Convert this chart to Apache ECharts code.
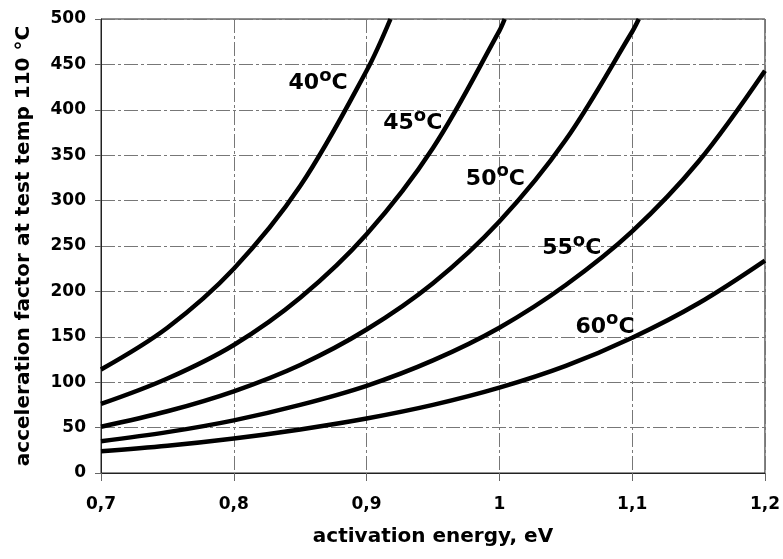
<!DOCTYPE html>
<html>
<head>
<meta charset="utf-8">
<script src="https://cdn.jsdelivr.net/npm/echarts@6/dist/echarts.min.js"></script>
<style>
html,body{margin:0;padding:0;background:#fff;}
#chart{width:783px;height:559px;}
</style>
</head>
<body>
<div id="chart"></div>
<script>
// activation energy (eV) sample points
const energy = [0.70, 0.75, 0.80, 0.85, 0.90, 0.95, 1.00, 1.05, 1.10, 1.15, 1.20];
// acceleration factor
const af40 = [114, 160, 225, 316, 443];
const af45 = [76, 104, 141, 193, 263, 358, 487];
const af50 = [51, 68, 90, 119, 158, 209, 277, 367, 486];
const af55 = [35, 45, 58, 75, 96, 124, 160, 207, 266, 343, 443];
const af60 = [24, 30, 38, 48, 60, 75, 94, 118, 149, 187, 234];
// energy where a curve leaves the top of the plot (value 500)
const exitEnergy = [0.918, 1.004, 1.105, null, null];
const temps = ['40', '45', '50', '55', '60'];
const xTicks = [0.7, 0.8, 0.9, 1.0, 1.1, 1.2];
const yTicks = [0, 50, 100, 150, 200, 250, 300, 350, 400, 450, 500];

const FONT = '"DejaVu Sans", "Liberation Sans", Arial, sans-serif';
const allCurves = [af40, af45, af50, af55, af60];
const labelCoords = [[0.8635, 429], [0.9348, 385], [0.997, 324], [1.0545, 247], [1.0796, 161]];

const series = allCurves.map((vals, i) => {
  const data = vals.map((v, j) => [energy[j], v]);
  if (exitEnergy[i] !== null) data.push([exitEnergy[i], yTicks[yTicks.length - 1]]);
  return {
    type: 'line',
    name: temps[i] + '°C',
    data: data,
    smooth: 0.35,
    showSymbol: false,
    symbol: 'none',
    silent: true,
    lineStyle: { color: '#000', width: 4.5 },
    markPoint: {
      symbol: 'circle',
      symbolSize: 0,
      itemStyle: { color: 'rgba(0,0,0,0)' },
      label: {
        show: true,
        position: 'inside',
        formatter: '{a|' + temps[i] + '}{b|o}{a|C}',
        rich: {
          a: { fontFamily: FONT, fontWeight: 'bold', fontSize: 22, color: '#000', lineHeight: 24 },
          b: { fontFamily: FONT, fontWeight: 'bold', fontSize: 18, color: '#000', padding: [0, 0, 14, 0] }
        }
      },
      data: [{ coord: labelCoords[i] }]
    }
  };
});

const chart = echarts.init(document.getElementById('chart'), null, { renderer: 'canvas' });
chart.setOption({
  animation: false,
  backgroundColor: '#fff',
  grid: { left: 101, right: 16, top: 19, bottom: 86, show: true, borderColor: '#222', borderWidth: 1 },
  xAxis: {
    type: 'value',
    min: xTicks[0], max: xTicks[xTicks.length - 1], interval: 0.1,
    name: 'activation energy, eV',
    nameLocation: 'middle',
    nameGap: 54,
    nameTextStyle: { fontFamily: FONT, fontWeight: 'bold', fontSize: 20, color: '#000' },
    axisLine: { show: true, lineStyle: { color: '#222', width: 1 } },
    axisTick: { show: true, length: 8, lineStyle: { color: '#666' } },
    axisLabel: {
      margin: 23, fontFamily: FONT, fontWeight: 'bold', fontSize: 17, color: '#000',
      formatter: v => (Math.round(v * 10) / 10).toString().replace('.', ',')
    },
    splitLine: { show: true, lineStyle: { color: '#777', width: 1, type: [14, 3, 3, 3] } }
  },
  yAxis: {
    type: 'value',
    min: yTicks[0], max: yTicks[yTicks.length - 1], interval: 50,
    name: 'acceleration factor at test temp 110 °C',
    nameLocation: 'middle',
    nameGap: 67,
    nameTextStyle: { fontFamily: FONT, fontWeight: 'bold', fontSize: 20, color: '#000' },
    axisLine: { show: true, lineStyle: { color: '#222', width: 1 } },
    axisTick: { show: true, length: 6, lineStyle: { color: '#666' } },
    axisLabel: { margin: 15, fontFamily: FONT, fontWeight: 'bold', fontSize: 17, color: '#000' },
    splitLine: { show: true, lineStyle: { color: '#777', width: 1, type: [14, 3, 3, 3] } }
  },
  series: series
});
</script>
</body>
</html>
